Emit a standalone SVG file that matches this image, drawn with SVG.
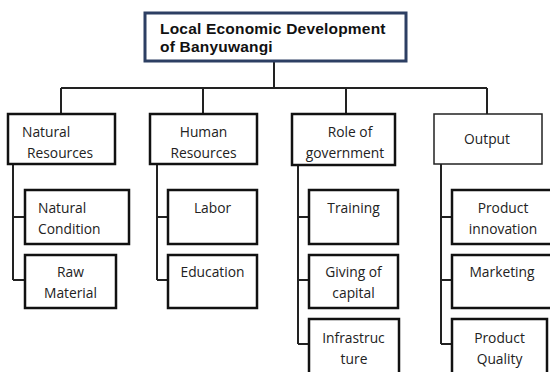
<svg xmlns="http://www.w3.org/2000/svg" width="550" height="372" viewBox="0 0 550 372">
<style>
.box{fill:#fff;stroke:#111;stroke-width:2.5}
.thin{fill:#fff;stroke:#222;stroke-width:1.5}
.top{fill:#fff;stroke:#2d3f63;stroke-width:3}
.t{font-family:"Open Sans","Noto Sans",sans-serif;font-size:13.8px;fill:#222}
.c{text-anchor:middle}
.title{font-family:"Liberation Sans",Arial,sans-serif;font-size:15.5px;letter-spacing:0.2px;font-weight:bold;fill:#111}
.ln{fill:none;stroke:#222;stroke-width:2}
</style>
<g id="connectors">
<path class="ln" d="M274 62V88M61 88H487M61 88V114M203 88V114M346 88V114M487 88V114"/>
<path class="ln" d="M13 164V280M13 217H25M13 280H25"/>
<path class="ln" d="M157 164V280M157 217H168M157 280H168"/>
<path class="ln" d="M298 165V344M298 217H309M298 280H309M298 344H309"/>
<path class="ln" d="M441 164V344M441 217H452M441 280H452M441 344H452"/>
</g>
<g id="root">
<rect class="top" x="145" y="13" width="261" height="48"/>
<text class="title" x="160" y="34">Local Economic Development</text>
<text class="title" x="160" y="52">of Banyuwangi</text>
</g>
<g id="natural-resources">
<rect class="box" x="8" y="114" width="107" height="50"/>
<text class="t" x="22" y="137">Natural</text>
<text class="t" x="27" y="158">Resources</text>
</g>
<g id="human-resources">
<rect class="box" x="150" y="114" width="107" height="50"/>
<text class="t c" x="203.5" y="137">Human</text>
<text class="t c" x="203.5" y="158">Resources</text>
</g>
<g id="role-of-government">
<rect class="box" x="292" y="114" width="103" height="51"/>
<text class="t c" x="350" y="137">Role of</text>
<text class="t c" x="345" y="158">government</text>
</g>
<g id="output">
<rect class="thin" x="434" y="114" width="108" height="50"/>
<text class="t c" x="487" y="144">Output</text>
</g>
<g id="natural-condition">
<rect class="box" x="25" y="190" width="104" height="54"/>
<text class="t" x="38" y="213">Natural</text>
<text class="t" x="38" y="234">Condition</text>
</g>
<g id="raw-material">
<rect class="box" x="25" y="255" width="91" height="53"/>
<text class="t c" x="70.5" y="277">Raw</text>
<text class="t c" x="70.5" y="298">Material</text>
</g>
<g id="labor">
<rect class="box" x="168" y="190" width="89" height="54"/>
<text class="t c" x="212.5" y="213">Labor</text>
</g>
<g id="education">
<rect class="box" x="168" y="255" width="89" height="53"/>
<text class="t c" x="212.5" y="277">Education</text>
</g>
<g id="training">
<rect class="box" x="309" y="190" width="89" height="54"/>
<text class="t c" x="353.5" y="213">Training</text>
</g>
<g id="giving-of-capital">
<rect class="box" x="309" y="255" width="89" height="53"/>
<text class="t c" x="353.5" y="277">Giving of</text>
<text class="t c" x="353.5" y="298">capital</text>
</g>
<g id="infrastructure">
<rect class="box" x="309" y="319" width="90" height="60"/>
<text class="t c" x="353.5" y="343">Infrastruc</text>
<text class="t c" x="354" y="364">ture</text>
</g>
<g id="product-innovation">
<rect class="box" x="452" y="190" width="102" height="54"/>
<text class="t c" x="503" y="213">Product</text>
<text class="t c" x="503" y="234">innovation</text>
</g>
<g id="marketing">
<rect class="box" x="452" y="255" width="102" height="53"/>
<text class="t c" x="502" y="277">Marketing</text>
</g>
<g id="product-quality">
<rect class="box" x="452" y="319" width="95" height="60"/>
<text class="t c" x="499.5" y="343">Product</text>
<text class="t c" x="499.5" y="364">Quality</text>
</g>
</svg>
